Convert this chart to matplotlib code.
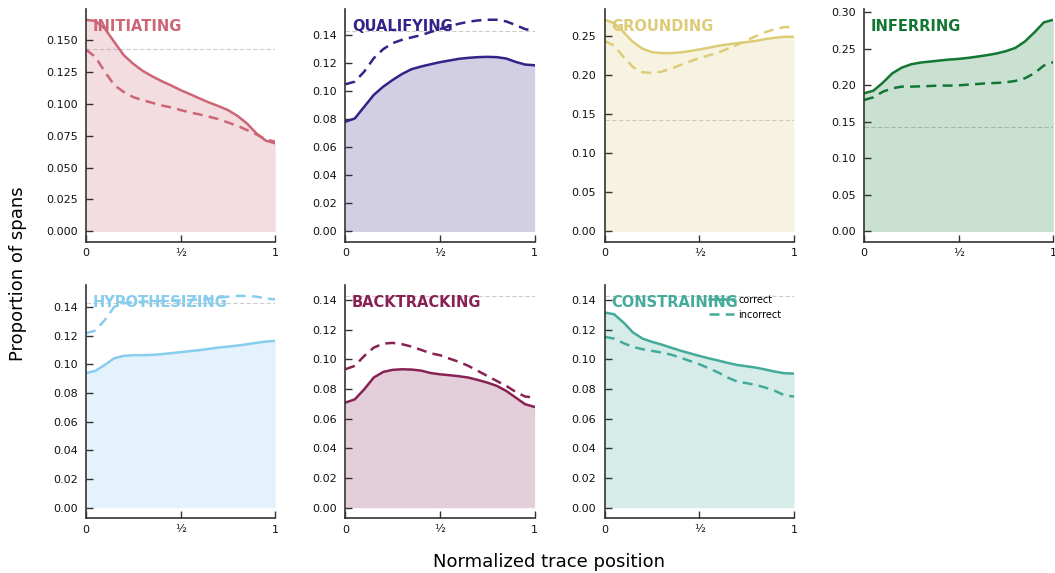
import matplotlib
matplotlib.use("Agg")
import matplotlib.pyplot as plt
import numpy as np

# normalized trace position, sampled every 0.05
pos = np.linspace(0, 1, 21)

names = ["INITIATING", "QUALIFYING", "GROUNDING", "INFERRING",
         "HYPOTHESIZING", "BACKTRACKING", "CONSTRAINING"]
colors = ["#CC6677", "#332288", "#DDCC77", "#117733",
          "#88CCEE", "#882255", "#44AA99"]

initiating_correct = [0.1655, 0.1645, 0.1585, 0.148, 0.1377, 0.131, 0.1255, 0.1213, 0.1175, 0.1141,
                      0.1105, 0.1073, 0.104, 0.1008, 0.098, 0.0949, 0.0904, 0.0845, 0.0767, 0.071, 0.0689]
initiating_incorrect = [0.1421, 0.1364, 0.1247, 0.1143, 0.109, 0.105, 0.1026, 0.1006, 0.0985, 0.097,
                        0.0949, 0.093, 0.0915, 0.0897, 0.0878, 0.0852, 0.0826, 0.0793, 0.0759, 0.072, 0.0702]

qualifying_correct = [0.0784, 0.0807, 0.0891, 0.0975, 0.1034, 0.1082, 0.1125, 0.1159, 0.1178, 0.1194,
                      0.1209, 0.1221, 0.1233, 0.124, 0.1245, 0.1247, 0.1245, 0.1235, 0.1211, 0.1192, 0.1187]
qualifying_incorrect = [0.1051, 0.107, 0.1142, 0.1237, 0.1302, 0.1345, 0.1369, 0.1386, 0.1402, 0.1424,
                        0.1445, 0.1467, 0.1483, 0.1498, 0.1507, 0.1512, 0.1512, 0.15, 0.1474, 0.1445, 0.1433]

grounding_correct = [0.2709, 0.2666, 0.2551, 0.2423, 0.2338, 0.2295, 0.2282, 0.2282, 0.2291, 0.2308,
                     0.2329, 0.2351, 0.2376, 0.2393, 0.241, 0.2423, 0.244, 0.2462, 0.2479, 0.2491, 0.2491]
grounding_incorrect = [0.2436, 0.238, 0.2231, 0.2103, 0.2039, 0.2026, 0.2044, 0.2082, 0.2129, 0.2176,
                       0.2218, 0.2253, 0.2287, 0.2338, 0.2389, 0.2445, 0.25, 0.2551, 0.259, 0.2615, 0.2615]

inferring_correct = [0.1888, 0.1925, 0.2035, 0.2163, 0.224, 0.2286, 0.2309, 0.2323, 0.2337, 0.235,
                     0.2359, 0.2373, 0.2391, 0.241, 0.2433, 0.2465, 0.251, 0.2597, 0.2721, 0.2858, 0.2894]
inferring_incorrect = [0.1797, 0.1834, 0.1911, 0.1957, 0.198, 0.198, 0.1984, 0.1989, 0.1994, 0.1994,
                       0.1998, 0.2007, 0.2016, 0.2026, 0.203, 0.2039, 0.2058, 0.2094, 0.2163, 0.2268, 0.2314]

hypothesizing_correct = [0.0939, 0.0955, 0.0997, 0.1043, 0.1059, 0.1064, 0.1064, 0.1066, 0.1071, 0.1078,
                         0.1085, 0.1092, 0.1099, 0.1108, 0.1117, 0.1124, 0.1131, 0.114, 0.115, 0.1159, 0.1164]
hypothesizing_incorrect = [0.1217, 0.1236, 0.131, 0.1402, 0.1426, 0.1433, 0.1437, 0.144, 0.1442, 0.1444,
                           0.1446, 0.1449, 0.1453, 0.1458, 0.1465, 0.1472, 0.1477, 0.1477, 0.1472, 0.146, 0.1453]

backtracking_correct = [0.0709, 0.0731, 0.0799, 0.0878, 0.0916, 0.093, 0.0934, 0.0932, 0.0925, 0.0909,
                        0.09, 0.0894, 0.0887, 0.0878, 0.0862, 0.0844, 0.0822, 0.0788, 0.0743, 0.0698, 0.068]
backtracking_incorrect = [0.0934, 0.0957, 0.1024, 0.108, 0.1107, 0.1112, 0.1103, 0.1087, 0.1065, 0.1042,
                          0.1029, 0.1006, 0.0984, 0.0957, 0.0923, 0.0889, 0.0855, 0.0822, 0.0781, 0.075, 0.0743]

constraining_correct = [0.1317, 0.1305, 0.1249, 0.1182, 0.1141, 0.1119, 0.1101, 0.108, 0.106, 0.1042,
                        0.1024, 0.1008, 0.0993, 0.0977, 0.0963, 0.0954, 0.0945, 0.0932, 0.0918, 0.0907, 0.0905]
constraining_incorrect = [0.1152, 0.1141, 0.111, 0.1085, 0.1069, 0.1058, 0.1047, 0.1033, 0.1013, 0.099,
                          0.0968, 0.0941, 0.0912, 0.0878, 0.0851, 0.084, 0.0828, 0.081, 0.0788, 0.0758, 0.075]

correct = [initiating_correct, qualifying_correct, grounding_correct, inferring_correct,
           hypothesizing_correct, backtracking_correct, constraining_correct]
incorrect = [initiating_incorrect, qualifying_incorrect, grounding_incorrect, inferring_incorrect,
             hypothesizing_incorrect, backtracking_incorrect, constraining_incorrect]

# uniform baseline = 1 / number of categories
baseline = 1 / len(names)

fig, axes = plt.subplots(2, 4, figsize=(10.55, 5.73), dpi=100)
fig.subplots_adjust(left=0.0815, right=0.9984, top=0.984, bottom=0.0955, wspace=0.37, hspace=0.186)
axes = axes.flatten()

for i, ax in enumerate(axes):
    if i >= len(names):
        ax.axis("off")
        continue
    c = colors[i]
    ax.fill_between(pos, 0, correct[i], color=c, alpha=0.22, linewidth=0)
    ax.plot(pos, correct[i], color=c, lw=1.8, solid_joinstyle="round", label="correct")
    ax.plot(pos, incorrect[i], color=c, lw=1.8, linestyle=(0, (4, 2.5)),
            dash_joinstyle="round", label="incorrect")
    ax.axhline(baseline, color="#cccccc", lw=0.8, linestyle=(0, (4, 2)), zorder=0)

    ax.set_xlim(0, 1)
    top = max(max(correct[i]), max(incorrect[i]), baseline)
    ax.set_ylim(-0.05 * top, 1.05 * top)
    ax.set_xticks([0, 0.5, 1])
    ax.set_xticklabels(["0", "½", "1"])
    ax.tick_params(direction="in", length=5, width=1, labelsize=8, colors="#333333", labelcolor="#111111")
    ax.tick_params(axis="x", pad=4.5)
    ax.tick_params(axis="y", pad=6)
    for s in ["top", "right"]:
        ax.spines[s].set_visible(False)
    for s in ["left", "bottom"]:
        ax.spines[s].set_linewidth(1.2)
        ax.spines[s].set_color("#333333")

    ax.text(0.035, 0.925, names[i], transform=ax.transAxes, color=c,
            fontsize=10.5, fontweight="bold", va="center", ha="left")

    if names[i] == "CONSTRAINING":
        ax.legend(loc="upper right", bbox_to_anchor=(0.965, 0.985), frameon=False, fontsize=7,
                  handlelength=2.6, labelspacing=0.5, handletextpad=0.4, borderaxespad=0.2)

fig.text(0.017, 0.523, "Proportion of spans", rotation=90, va="center", ha="center", fontsize=13)
fig.text(0.52, 0.019, "Normalized trace position", va="center", ha="center", fontsize=13)

fig.savefig("out.png", dpi=100)
